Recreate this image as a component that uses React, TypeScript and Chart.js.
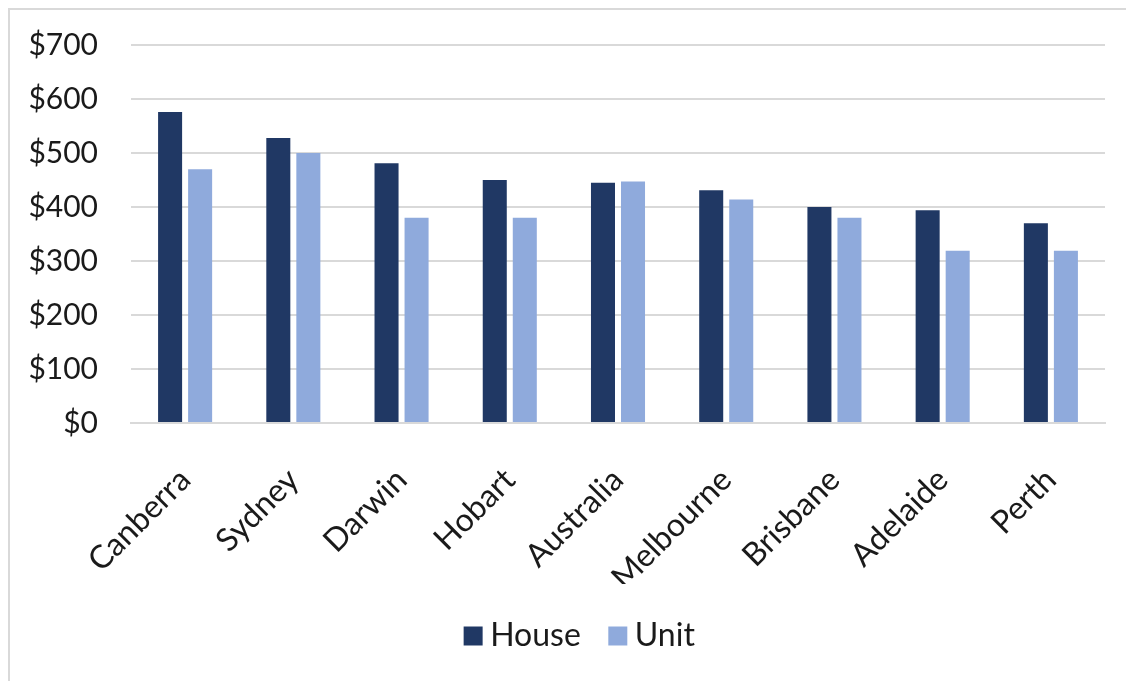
import React, { useEffect, useRef } from "react";
import { Chart, registerables } from "chart.js";

Chart.register(...registerables);

const categories = ["Canberra", "Sydney", "Darwin", "Hobart", "Australia", "Melbourne", "Brisbane", "Adelaide", "Perth"];
const houseValues = [576, 528, 481, 450, 445, 431, 400, 394, 370];
const unitValues = [470, 500, 380, 380, 447, 414, 380, 319, 319];
const yTicks = [0, 100, 200, 300, 400, 500, 600, 700];

const FONT = "Lato, 'Open Sans', sans-serif";

const legendShift = {
  id: "legendShift",
  afterLayout(chart: any) {
    const l = chart.legend;
    if (l) {
      l.left += 26;
      l.right += 26;
    }
  },
};

export default function App() {
  const canvasRef = useRef<HTMLCanvasElement | null>(null);

  useEffect(() => {
    const canvas = canvasRef.current;
    if (!canvas) return;
    const chart = new Chart(canvas, {
      type: "bar",
      data: {
        labels: categories,
        datasets: [
          {
            label: "House",
            data: houseValues,
            backgroundColor: "#203864",
            barPercentage: 0.8,
            categoryPercentage: 0.555,
          },
          {
            label: "Unit",
            data: unitValues,
            backgroundColor: "#8faadc",
            barPercentage: 0.8,
            categoryPercentage: 0.555,
          },
        ],
      },
      plugins: [legendShift],
      options: {
        responsive: false,
        animation: false,
        layout: { padding: { top: 35, right: 29, bottom: 19, left: 0 } },
        plugins: {
          legend: {
            position: "bottom",
            labels: {
              font: { family: FONT, size: 32 },
              color: "#1a1a1a",
              usePointStyle: true,
              pointStyle: "rect",
              boxWidth: 2,
              boxHeight: 19,
              padding: 36,
            },
          },
          tooltip: { enabled: false },
        },
        scales: {
          x: {
            grid: { display: false, drawTicks: false },
            border: { display: true, color: "#d9d9d9", width: 2 },
            ticks: {
              font: { family: FONT, size: 32 },
              color: "#1a1a1a",
              maxRotation: 45,
              minRotation: 45,
              padding: 38,
              autoSkip: false,
            },
            afterFit: (scale: any) => {
              scale.height = 161;
            },
          },
          y: {
            min: 0,
            max: 700,
            afterBuildTicks: (scale: any) => {
              scale.ticks = yTicks.map((v) => ({ value: v }));
            },
            grid: { color: "#d9d9d9", lineWidth: 2, drawTicks: false },
            border: { display: false },
            ticks: {
              font: { family: FONT, size: 30 },
              color: "#1a1a1a",
              padding: 33,
              callback: (v: any) => "$" + v,
            },
            afterFit: (scale: any) => {
              scale.width = 121;
              scale.paddingTop = 0;
              scale.paddingBottom = 0;
            },
          },
        },
      },
    });
    return () => chart.destroy();
  }, []);

  return (
    <div
      style={{
        width: 1124,
        height: 671,
        borderTop: "2px solid #d9d9d9",
        borderLeft: "2px solid #d9d9d9",
        background: "#fff",
      }}
    >
      <canvas ref={canvasRef} width={1124} height={671} style={{ display: "block" }} />
    </div>
  );
}
